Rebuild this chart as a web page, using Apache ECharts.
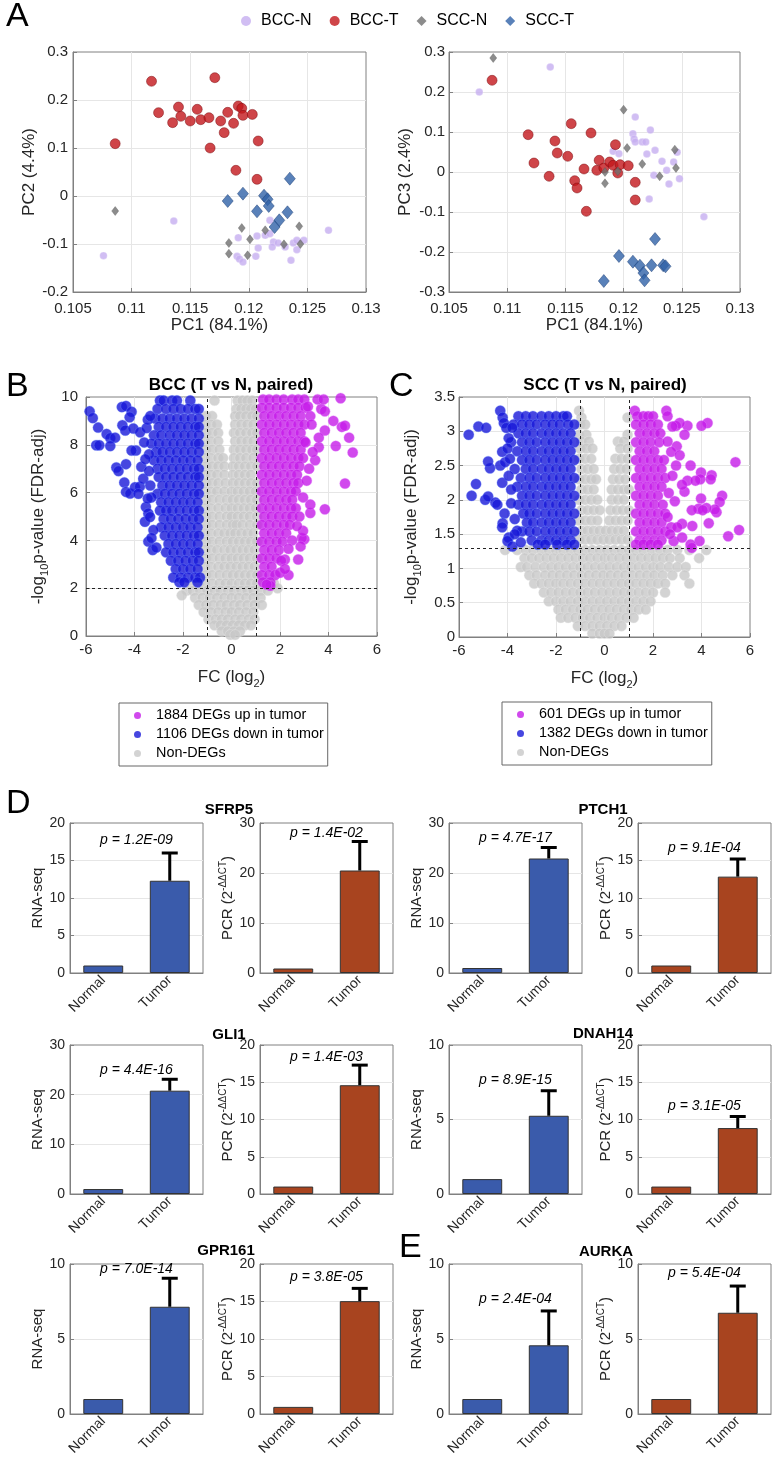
<!DOCTYPE html>
<html><head><meta charset="utf-8">
<script src="https://cdn.jsdelivr.net/npm/echarts@6/dist/echarts.min.js"></script>
<style>html,body{margin:0;padding:0;background:#fff}#c{width:774px;height:1459px}</style>
</head><body><div id="c"></div>
<script>
// ================= DATA =================
const pcaGroups = ['BCC-N', 'BCC-T', 'SCC-N', 'SCC-T'];
// PC1 vs PC2
const pc12_BCCN = [[0.1076,-0.1243],[0.1136,-0.0521],[0.1191,-0.0868],[0.1190,-0.1257],[0.1192,-0.1313],[0.1195,-0.1375],[0.1207,-0.0833],[0.1208,-0.1083],[0.1206,-0.1257],[0.1214,-0.0819],[0.1218,-0.0507],[0.1218,-0.0785],[0.1221,-0.0958],[0.1220,-0.1063],[0.1225,-0.0979],[0.1231,-0.1063],[0.1236,-0.134],[0.1238,-0.0979],[0.1241,-0.0924],[0.1247,-0.0924],[0.1241,-0.1118],[0.1268,-0.0715]];
const pc12_BCCT = [[0.1117,0.239],[0.1171,0.2465],[0.1086,0.109],[0.1123,0.1736],[0.1140,0.1854],[0.1142,0.166],[0.1135,0.1528],[0.1150,0.1563],[0.1156,0.1806],[0.1159,0.159],[0.1166,0.1632],[0.1167,0.100],[0.1176,0.1563],[0.1179,0.132],[0.1182,0.1743],[0.1187,0.1514],[0.1191,0.1875],[0.1194,0.1826],[0.1195,0.168],[0.1203,0.170],[0.1208,0.1146],[0.1189,0.0535],[0.1207,0.0347]];
const pc12_SCCN = [[0.1086,-0.0313],[0.1194,-0.0667],[0.1183,-0.0979],[0.1183,-0.1201],[0.1201,-0.0903],[0.1199,-0.1236],[0.1214,-0.0715],[0.1230,-0.1007],[0.1243,-0.0632],[0.1244,-0.1]];
const pc12_SCCT = [[0.1182,-0.0104],[0.1195,0.0049],[0.1213,0.0007],[0.1216,-0.0069],[0.1217,-0.0208],[0.1207,-0.0319],[0.1235,0.0361],[0.1233,-0.034],[0.1226,-0.0507],[0.1222,-0.0646]];
// PC1 vs PC3
const pc13_BCCN = [[0.1076,0.2],[0.1137,0.2625],[0.1210,0.1375],[0.1208,0.0958],[0.1209,0.0825],[0.1210,0.075],[0.1216,0.075],[0.1219,0.075],[0.1223,0.105],[0.1220,0.045],[0.1227,0.0542],[0.1233,0.0267],[0.1237,0.0042],[0.1243,0.025],[0.1246,0.0492],[0.1248,-0.0167],[0.1239,-0.03],[0.1226,-0.0083],[0.1222,-0.0675],[0.1191,0.0517],[0.1196,0.0458],[0.1269,-0.1117]];
const pc13_BCCT = [[0.1087,0.2292],[0.1118,0.0933],[0.1123,0.0225],[0.1136,-0.0108],[0.1141,0.0775],[0.1143,0.0475],[0.1152,0.0392],[0.1155,0.1208],[0.1158,-0.0217],[0.1160,-0.04],[0.1166,0.0075],[0.1168,-0.0983],[0.1172,0.0975],[0.1177,0.0042],[0.1179,0.0292],[0.1183,0.01],[0.1188,0.025],[0.1191,0.0167],[0.1193,0.0683],[0.1195,-0.0025],[0.1197,0.0183],[0.1204,0.0158],[0.1210,-0.0258],[0.1210,-0.07]];
const pc13_SCCN = [[0.1088,0.285],[0.1200,0.1558],[0.1203,0.06],[0.1184,0],[0.1184,-0.0283],[0.1195,0.0017],[0.1216,0.02],[0.1231,-0.0108],[0.1244,0.0558],[0.1245,0.01]];
const pc13_SCCT = [[0.1183,-0.2725],[0.1196,-0.21],[0.1208,-0.2242],[0.1214,-0.2342],[0.1217,-0.2525],[0.1218,-0.2708],[0.1224,-0.2333],[0.1227,-0.1675],[0.1234,-0.2333],[0.1236,-0.2358]];

// Volcano B (BCC): rows [y, [x...]]
const bccUpName = '1884 DEGs up in tumor', bccDownName = '1106 DEGs down in tumor';
const bccDownRows = [[9.85,[-2.95,-2.8,-2.45,-2.25,-1.7]],[9.5,[-3.05,-2.7,-2.4,-2.1,-1.8,-1.5,-1.35]],[9.1,[-3.15,-2.85,-2.55,-2.25,-1.95,-1.65,-1.35]],[8.75,[-3.0,-2.7,-2.4,-2.1,-1.8,-1.5,-1.35]],[8.4,[-3.2,-2.9,-2.55,-2.25,-1.95,-1.65,-1.35]],[8.05,[-3.3,-3.0,-2.7,-2.4,-2.1,-1.8,-1.5,-1.35]],[7.7,[-3.1,-2.85,-2.55,-2.25,-1.95,-1.65,-1.35]],[7.35,[-3.2,-2.9,-2.6,-2.3,-2.0,-1.7,-1.4]],[7.0,[-3.05,-2.75,-2.45,-2.15,-1.85,-1.55,-1.35]],[6.65,[-3.0,-2.7,-2.4,-2.1,-1.8,-1.5,-1.35]],[6.3,[-2.85,-2.55,-2.25,-1.95,-1.65,-1.35]],[5.95,[-3.05,-2.75,-2.45,-2.15,-1.85,-1.55,-1.35]],[5.6,[-2.9,-2.6,-2.3,-2.0,-1.7,-1.4]],[5.25,[-2.95,-2.7,-2.45,-2.15,-1.85,-1.55,-1.35]],[4.9,[-2.8,-2.5,-2.2,-1.9,-1.6,-1.35]],[4.55,[-2.9,-2.6,-2.3,-2.0,-1.7,-1.4]],[4.2,[-2.75,-2.45,-2.15,-1.85,-1.55,-1.35]],[3.85,[-2.6,-2.3,-2.0,-1.7,-1.4]],[3.5,[-2.7,-2.4,-2.1,-1.8,-1.5,-1.35]],[3.15,[-2.5,-2.2,-1.9,-1.6,-1.35]],[2.8,[-2.3,-2.0,-1.7,-1.4]],[2.45,[-2.4,-2.1,-1.8,-1.5,-1.3]],[2.25,[-2.15,-1.95,-1.4]]];
const bccDownOut = [[-5.85,9.4],[-5.72,9.12],[-5.5,8.72],[-5.58,7.98],[-5.45,7.98],[-5.15,8.45],[-5.0,8.28],[-4.8,8.3],[-5.0,7.95],[-4.75,7.05],[-4.66,6.9],[-4.52,9.58],[-4.35,9.62],[-4.5,8.82],[-4.38,8.6],[-4.12,9.38],[-4.2,9.15],[-4.42,6.42],[-4.35,6.03],[-4.18,5.96],[-3.98,6.22],[-3.78,6.25],[-3.84,5.95],[-4.05,8.68],[-3.94,7.76],[-3.77,8.52],[-4.12,7.76],[-4.35,7.19],[-3.64,6.58],[-3.72,7.08],[-3.53,5.4],[-3.43,5.13],[-3.57,4.78],[-3.36,4.98],[-3.43,3.95],[-3.22,4.43],[-3.5,8.7],[-3.45,9.05],[-3.35,9.2],[-3.6,8.1],[-3.4,7.6],[-3.55,7.4],[-3.4,6.9],[-3.35,6.3],[-3.3,5.8],[-3.45,5.75],[-3.25,3.6],[-3.3,4.1],[-3.1,3.7]];
const bccUpRows = [[9.9,[1.3,1.55,1.85,2.15,2.5,2.75,3.0]],[9.55,[1.25,1.55,1.85,2.15,2.45,2.75,3.05]],[9.2,[1.35,1.65,1.95,2.25,2.55,2.85]],[8.85,[1.25,1.55,1.85,2.15,2.45,2.75,3.0]],[8.5,[1.35,1.65,1.95,2.25,2.55,2.85]],[8.15,[1.25,1.55,1.85,2.15,2.45,2.75,3.0]],[7.8,[1.35,1.65,1.95,2.25,2.55,2.85]],[7.45,[1.25,1.55,1.85,2.15,2.45,2.75,2.95]],[7.1,[1.35,1.65,1.95,2.25,2.55,2.8]],[6.75,[1.25,1.55,1.85,2.15,2.45,2.7]],[6.4,[1.35,1.65,1.95,2.25,2.55,2.75]],[6.05,[1.25,1.55,1.85,2.15,2.45,2.65]],[5.7,[1.35,1.65,1.95,2.25,2.5]],[5.35,[1.25,1.55,1.85,2.15,2.45,2.65]],[5.0,[1.35,1.65,1.95,2.25,2.5]],[4.65,[1.25,1.55,1.85,2.15,2.4]],[4.3,[1.35,1.65,1.95,2.25]],[3.95,[1.25,1.55,1.85,2.1]],[3.6,[1.35,1.65,1.95]],[3.25,[1.25,1.55,1.85]],[2.9,[1.35,1.65]],[2.55,[1.25,1.55,1.8]],[2.25,[1.3,1.6]]];
const bccUpOut = [[4.5,9.95],[4.3,7.95],[4.55,8.75],[4.68,8.8],[4.85,8.3],[5.0,7.68],[4.68,6.38],[3.85,5.3],[3.25,5.15],[3.25,5.5],[3.6,7.9],[3.45,7.35],[3.85,8.6],[3.7,9.5],[3.85,9.4],[3.55,9.9],[3.8,9.9],[3.25,9.2],[3.3,8.85],[3.0,4.05],[2.75,3.2],[2.35,2.55],[2.2,3.2],[2.05,3.15],[2.0,2.65],[1.6,2.1],[1.45,2.15],[2.9,4.1],[2.95,4.4],[2.7,4.6],[2.5,4.0],[2.8,5.0],[2.95,5.8],[3.1,6.5],[3.2,7.0],[3.05,8.1],[3.15,9.6],[2.85,3.75],[2.35,3.65],[2.2,2.8],[3.35,7.7],[4.2,9.0],[3.6,8.3]];
const bccNonRows = [[9.85,[-0.7,0.25,0.45,0.65,0.85]],[9.5,[0.2,0.4,0.6,0.8,1.0]],[9.2,[-1.05,-0.8,0.15,0.35,0.6,0.85,1.05]],[8.85,[-1.1,-0.85,-0.6,0.15,0.4,0.65,0.9]],[8.5,[-1.05,-0.8,-0.55,0.1,0.35,0.6,0.85,1.05]],[8.15,[-1.1,-0.85,-0.55,0.15,0.4,0.65,0.9]],[7.8,[-1.05,-0.8,-0.5,0.1,0.35,0.6,0.85,1.05]],[7.45,[-1.1,-0.85,-0.55,-0.35,0.1,0.35,0.6,0.9]],[7.1,[-1.05,-0.8,-0.55,-0.3,0.05,0.3,0.55,0.8,1.05]],[6.75,[-1.1,-0.85,-0.6,-0.3,0.05,0.3,0.55,0.8]],[6.4,[-1.05,-0.8,-0.55,-0.25,0.05,0.3,0.55,0.8,1.05]],[6.05,[-1.1,-0.85,-0.6,-0.3,0.0,0.25,0.5,0.75,1.0]],[5.7,[-1.05,-0.8,-0.5,-0.2,0.05,0.3,0.55,0.8,1.05]],[5.35,[-1.1,-0.85,-0.55,-0.25,0.0,0.25,0.5,0.75,1.0]],[5.0,[-1.05,-0.8,-0.5,-0.2,0.0,0.25,0.5,0.75,1.05]],[4.65,[-1.05,-0.8,-0.5,-0.2,0.05,0.2,0.45,0.75,1.05]],[4.3,[-1.1,-0.85,-0.55,-0.3,-0.05,0.15,0.4,0.65,0.9]],[3.95,[-1.05,-0.8,-0.5,-0.2,0.05,0.3,0.55,0.8,1.05]],[3.6,[-1.1,-0.85,-0.6,-0.3,-0.05,0.2,0.45,0.7,0.95]],[3.25,[-1.05,-0.8,-0.5,-0.25,0.0,0.25,0.5,0.75,1.05]],[2.9,[-1.1,-0.85,-0.55,-0.3,-0.05,0.2,0.45,0.7,0.95]],[2.55,[-1.05,-0.8,-0.5,-0.2,0.05,0.3,0.55,0.8,1.05]],[2.2,[-1.7,-1.35,-1.1,-0.8,-0.5,-0.25,0.0,0.3,0.55,0.8,1.05,1.4,1.75]],[1.9,[-1.85,-1.6,-1.3,-1.0,-0.7,-0.45,-0.15,0.1,0.4,0.65,0.9,1.2,1.5]],[1.6,[-1.5,-1.2,-0.9,-0.6,-0.3,0.0,0.3,0.6,0.9,1.2]],[1.3,[-1.35,-1.05,-0.75,-0.45,-0.2,0.1,0.35,0.65,0.95,1.25]],[1.0,[-1.15,-0.85,-0.55,-0.25,0.0,0.3,0.6,0.9]],[0.7,[-0.95,-0.65,-0.4,-0.15,0.15,0.4,0.7,0.95]],[0.45,[-0.7,-0.45,-0.2,0.05,0.3,0.55,0.8]],[0.2,[-0.4,-0.15,0.1,0.35]],[0.05,[-0.05,0.15]]];
const bccNonOut = [[-2.05,1.7],[1.9,2.0]];
const bccPThresh = 2;

// Volcano C (SCC)
const sccUpName = '601 DEGs up in tumor', sccDownName = '1382 DEGs down in tumor';
const sccDownRows = [[3.22,[-3.55,-3.25,-2.95,-2.6,-2.3,-2.0,-1.7,-1.55]],[3.1,[-3.75,-3.4,-3.1,-2.8,-2.45,-2.15,-1.85,-1.5,-1.25]],[2.97,[-3.55,-3.25,-2.95,-2.6,-2.3,-2.0,-1.7,-1.4]],[2.84,[-3.85,-3.4,-3.1,-2.8,-2.45,-2.15,-1.85,-1.55,-1.25]],[2.71,[-3.6,-3.25,-2.95,-2.6,-2.3,-2.0,-1.7,-1.4]],[2.58,[-3.4,-3.1,-2.8,-2.45,-2.15,-1.85,-1.55,-1.25]],[2.45,[-3.7,-3.25,-2.95,-2.6,-2.3,-2.0,-1.7,-1.4]],[2.32,[-3.45,-3.1,-2.8,-2.45,-2.15,-1.85,-1.55,-1.25]],[2.19,[-3.6,-3.25,-2.95,-2.6,-2.3,-2.0,-1.7,-1.4]],[2.06,[-3.4,-3.1,-2.8,-2.45,-2.15,-1.85,-1.55,-1.25]],[1.93,[-3.55,-3.25,-2.95,-2.6,-2.3,-2.0,-1.7,-1.4]],[1.8,[-3.35,-3.1,-2.8,-2.45,-2.15,-1.85,-1.55,-1.25]],[1.67,[-3.2,-2.95,-2.6,-2.3,-2.0,-1.7,-1.4]],[1.54,[-3.4,-3.1,-2.8,-2.45,-2.15,-1.85,-1.55,-1.25]],[1.41,[-3.0,-2.6,-2.3,-2.0,-1.7,-1.4]],[1.35,[-2.75,-2.45,-1.95,-1.55,-1.25]]];
const sccDownOut = [[-5.6,2.95],[-5.2,3.07],[-4.88,3.05],[-5.3,2.23],[-5.48,2.06],[-4.92,2.0],[-4.8,2.05],[-4.72,2.46],[-4.8,2.56],[-4.5,1.96],[-4.42,1.93],[-4.22,2.25],[-4.12,1.8],[-4.2,1.66],[-4.22,1.6],[-3.95,1.45],[-4.0,1.4],[-3.8,1.32],[-4.3,3.3],[-4.2,3.2],[-4.15,3.12],[-3.95,2.9],[-4.22,2.7],[-4.3,2.5],[-4.1,2.55],[-4.05,3.05],[-3.9,2.6],[-3.95,2.35],[-3.85,2.15],[-3.7,1.72],[-3.85,1.95],[-3.6,1.55],[-3.45,1.38],[-3.7,1.5],[-3.8,3.05],[-4.0,2.75]];
const sccUpRows = [[3.3,[1.25]],[3.22,[1.35,1.6,1.8,2.0]],[3.1,[1.3,1.6,1.9,2.2]],[2.97,[1.45,1.75,2.05,2.3]],[2.84,[1.3,1.6,1.9,2.25]],[2.71,[1.45,1.75,2.05]],[2.58,[1.3,1.6,1.9,2.2,2.45]],[2.45,[1.45,1.75,2.05,2.35]],[2.32,[1.3,1.6,1.9,2.2,2.5]],[2.19,[1.45,1.75,2.05,2.35]],[2.06,[1.3,1.6,1.9,2.2]],[1.93,[1.45,1.75,2.05,2.4]],[1.8,[1.3,1.6,1.9,2.2,2.5]],[1.67,[1.45,1.75,2.05,2.35]],[1.54,[1.3,1.6,1.9,2.2,2.5]],[1.41,[1.45,1.75,2.05,2.35]],[1.35,[1.3,1.6,1.9,2.2]]];
const sccUpOut = [[5.55,1.56],[5.4,2.55],[5.1,1.47],[4.85,2.06],[4.75,1.97],[4.62,1.82],[4.55,1.86],[4.42,2.36],[4.38,2.3],[4.25,3.12],[4.0,3.08],[3.98,2.4],[3.95,2.3],[3.98,2.02],[3.88,1.87],[3.92,1.4],[4.2,1.88],[4.3,1.66],[4.05,1.85],[3.6,1.85],[3.62,1.62],[3.55,2.5],[3.42,2.28],[3.42,3.08],[3.3,2.12],[3.2,2.22],[3.2,1.65],[3.1,3.12],[2.95,3.08],[2.8,3.07],[2.98,2.78],[3.3,2.95],[3.75,2.28],[3.55,1.35],[3.6,1.3],[2.55,3.3],[2.6,3.22],[2.95,2.5],[2.75,2.7],[2.6,2.85],[2.8,2.35],[2.65,2.1],[2.9,1.98],[2.75,1.6],[3.0,1.6],[2.85,1.4],[2.6,1.75],[3.1,2.65],[2.7,1.5],[3.2,1.45]];
const sccNonRows = [[3.3,[-1.05]],[3.2,[-0.95,0.95]],[3.1,[-1.0,-0.8]],[2.95,[-1.05,-0.75,0.95]],[2.85,[-0.95,-0.65,0.55,0.8]],[2.75,[-1.0,-0.75,-0.5,0.65,0.95]],[2.6,[-1.05,-0.8,-0.55,0.45,0.7,0.95]],[2.45,[-0.95,-0.7,-0.45,0.4,0.65,0.9]],[2.3,[-1.05,-0.8,-0.55,-0.35,0.35,0.6,0.85]],[2.15,[-0.95,-0.7,-0.45,0.3,0.55,0.8,1.0]],[2.0,[-1.05,-0.8,-0.55,-0.3,0.3,0.55,0.8]],[1.85,[-0.95,-0.7,-0.45,-0.2,0.25,0.5,0.75,1.0]],[1.7,[-1.05,-0.8,-0.55,-0.3,0.2,0.45,0.7,0.95]],[1.55,[-0.95,-0.7,-0.45,-0.2,0.05,0.3,0.55,0.8]],[1.42,[-1.05,-0.8,-0.55,-0.3,-0.05,0.2,0.45,0.7,0.95]],[1.27,[-4.1,-3.6,-3.25,-2.95,-2.6,-2.3,-2.0,-1.7,-1.4,-1.1,-0.8,-0.5,-0.2,0.1,0.4,0.7,1.0,1.3,1.6,1.95,2.3,2.6,3.0,3.5,4.2]],[1.15,[-3.3,-3.0,-2.7,-2.4,-2.1,-1.8,-1.5,-1.2,-0.9,-0.6,-0.3,0.0,0.3,0.6,0.9,1.2,1.5,1.8,2.1,2.4,2.7,3.1,3.9]],[1.02,[-3.45,-3.2,-2.85,-2.5,-2.2,-1.9,-1.6,-1.3,-1.0,-0.7,-0.4,-0.1,0.2,0.5,0.8,1.1,1.4,1.7,2.0,2.3,2.65,3.0,3.35]],[0.9,[-3.1,-2.8,-2.45,-2.15,-1.85,-1.55,-1.25,-0.95,-0.65,-0.35,-0.05,0.25,0.55,0.85,1.15,1.45,1.75,2.05,2.4,2.8,3.3]],[0.78,[-2.9,-2.6,-2.3,-2.0,-1.7,-1.4,-1.1,-0.8,-0.5,-0.2,0.1,0.4,0.7,1.0,1.3,1.6,1.9,2.2,2.5,3.5]],[0.65,[-2.5,-2.2,-1.9,-1.6,-1.3,-1.0,-0.7,-0.4,-0.1,0.2,0.5,0.8,1.1,1.4,1.7,2.0,2.5]],[0.52,[-2.3,-2.0,-1.7,-1.4,-1.1,-0.8,-0.5,-0.2,0.1,0.4,0.7,1.0,1.3,1.6,1.9]],[0.4,[-1.9,-1.6,-1.3,-1.0,-0.7,-0.4,-0.1,0.2,0.5,0.8,1.1,1.4,1.7]],[0.28,[-1.8,-1.5,-1.2,-0.9,-0.6,-0.3,0.0,0.3,0.6,0.9,1.2]],[0.16,[-1.1,-0.8,-0.5,-0.2,0.1,0.4,0.7]],[0.05,[-0.5,-0.2,0.0,0.2]]];
const sccPThresh = 1.3;
const fcThresh = 1;

// Bar panels D / E
const genes = ['SFRP5', 'PTCH1', 'GLI1', 'DNAH14', 'GPR161', 'AURKA'];
const barCats = ['Normal', 'Tumor'];
const rnaNormal = [1, 1, 1, 1, 1, 1];
const rnaTumor = [12.3, 22.9, 20.8, 5.25, 7.15, 4.58];
const rnaErrTop = [16.0, 25.1, 23.1, 6.93, 9.05, 6.87];
const pcrNormal = [0.9, 1, 1, 1, 0.95, 1];
const pcrTumor = [20.5, 12.85, 14.6, 8.85, 15.05, 6.75];
const pcrErrTop = [26.3, 15.2, 17.3, 10.4, 16.75, 8.53];
const rnaP = ['1.2E-09', '4.7E-17', '4.4E-16', '8.9E-15', '7.0E-14', '2.4E-04'];
const pcrP = ['1.4E-02', '9.1E-04', '1.4E-03', '3.1E-05', '3.8E-05', '5.4E-04'];
const rnaMax = [20, 30, 30, 10, 10, 10], rnaStep = [5, 10, 10, 5, 5, 5];
const pcrMax = [30, 20, 20, 20, 20, 10], pcrStep = [10, 5, 5, 5, 5, 5];

// ================= LAYOUT / STYLE =================
const FF = '"Liberation Sans", Arial, Helvetica, sans-serif';
const BOX = '#808080', TXT = '#262626', GRIDC = '#e6e6e6';
const rowsToPts = rows => rows.flatMap(([y, xs]) => xs.map(x => [x, y]));
const barTops = [823, 1045, 1264], barH = [150, 149, 150];
const rnaLeft = [70, 449], pcrLeft = [260, 638], barW = 133;
const rnaPy = [840, 838, 1070, 1080, 1269, 1299];
const pcrPy = [833, 848, 1057, 1106, 1277, 1273];
const geneTitlePos = [[229, 810], [603, 810], [229, 1035], [603, 1034], [226, 1251], [606, 1252]];
const VOL_SIZE = 10.5;

const grids = [], xAxes = [], yAxes = [], series = [], graphics = [];
function addGrid(r) {
  grids.push({left: r[0], top: r[1], width: r[2], height: r[3], show: true, borderColor: BOX, borderWidth: 1, outerBoundsMode: 'none', containLabel: false});
  return grids.length - 1;
}
function valueAxis(gi, min, max, interval, o) {
  return {
    type: 'value', gridIndex: gi, min, max, interval,
    axisLine: {show: true, onZero: false, lineStyle: {color: BOX}},
    axisTick: {show: true, inside: true, length: 4, lineStyle: {color: BOX}},
    splitLine: {show: o.split !== false, showMinLine: false, showMaxLine: false, lineStyle: {color: GRIDC}},
    axisLabel: {color: TXT, fontSize: o.fs || 15, fontFamily: FF, margin: o.margin, formatter: o.fmt},
    name: o.name, nameLocation: 'middle', nameGap: o.nameGap,
    nameTextStyle: Object.assign({color: TXT, fontSize: 17, fontFamily: FF}, o.nts || {})
  };
}
const sub = {b: {fontSize: 17, lineHeight: 24, color: TXT, fontFamily: FF}, s: {fontSize: 11, lineHeight: 12, verticalAlign: 'bottom', color: TXT, fontFamily: FF}};
const sup = {b: {fontSize: 15, lineHeight: 20, color: TXT, fontFamily: FF}, s: {fontSize: 10, lineHeight: 10, verticalAlign: 'top', color: TXT, fontFamily: FF}};

// ---- Panel A ----
const pcaSets = [
  {rect: [73, 52, 293, 240], yMin: -0.2, yMax: 0.3, yName: 'PC2 (4.4%)', yGap: 32, yMargin: 5, data: [pc12_BCCN, pc12_BCCT, pc12_SCCN, pc12_SCCT]},
  {rect: [449, 52, 291, 240], yMin: -0.3, yMax: 0.3, yName: 'PC3 (2.4%)', yGap: 35, yMargin: 4, data: [pc13_BCCN, pc13_BCCT, pc13_SCCN, pc13_SCCT]}
];
const pcaStyle = [
  {symbol: 'circle', size: 7.5, item: {color: '#c6aef0', borderColor: 'rgba(255,255,255,0.6)', borderWidth: 0.5}},
  {symbol: 'circle', size: 10, item: {color: '#c3161c', borderColor: '#7a0a0e', borderWidth: 0.6}},
  {symbol: 'diamond', size: [7, 9], item: {color: '#6f6f6f', borderColor: '#555', borderWidth: 0.4}},
  {symbol: 'diamond', size: [11, 13], item: {color: '#2f62a8', borderColor: '#1d3f75', borderWidth: 0.6}}
];
pcaSets.forEach(ps => {
  const gi = addGrid(ps.rect);
  xAxes.push(valueAxis(gi, 0.105, 0.13, 0.005, {margin: 9, fmt: v => (+v.toFixed(3)).toString(), name: 'PC1 (84.1%)', nameGap: 22}));
  yAxes.push(valueAxis(gi, ps.yMin, ps.yMax, 0.1, {margin: ps.yMargin, fmt: v => (Math.round(v * 10) / 10).toString(), name: ps.yName, nameGap: ps.yGap}));
  const ai = xAxes.length - 1;
  ps.data.forEach((d, k) => {
    series.push({type: 'scatter', name: pcaGroups[k], xAxisIndex: ai, yAxisIndex: ai, data: d, symbol: pcaStyle[k].symbol, symbolSize: pcaStyle[k].size, itemStyle: pcaStyle[k].item, z: 2 + k});
  });
});

// ---- Panels B, C ----
const volSets = [
  {rect: [86, 397, 291, 239], yMax: 10, yStep: 2, yMargin: 8, yGap: 36, thr: bccPThresh, names: [bccUpName, bccDownName],
   up: rowsToPts(bccUpRows).concat(bccUpOut), down: rowsToPts(bccDownRows).concat(bccDownOut), non: rowsToPts(bccNonRows).concat(bccNonOut), title: 'BCC (T vs N, paired)', tx: 231},
  {rect: [459, 397, 291, 240], yMax: 3.5, yStep: 0.5, yMargin: 4, yGap: 36, thr: sccPThresh, names: [sccUpName, sccDownName],
   up: rowsToPts(sccUpRows).concat(sccUpOut), down: rowsToPts(sccDownRows).concat(sccDownOut), non: rowsToPts(sccNonRows), title: 'SCC (T vs N, paired)', tx: 605}
];
volSets.forEach(vs => {
  const gi = addGrid(vs.rect);
  xAxes.push(valueAxis(gi, -6, 6, 2, {margin: 6, name: '{b|FC (log}{s|2}{b|)}', nameGap: 29, nts: {rich: sub}}));
  yAxes.push(valueAxis(gi, 0, vs.yMax, vs.yStep, {margin: vs.yMargin, name: '{b|-log}{s|10}{b|p-value (FDR-adj)}', nameGap: vs.yGap, nts: {rich: sub}}));
  const ai = xAxes.length - 1;
  series.push({type: 'scatter', name: 'Non-DEGs', xAxisIndex: ai, yAxisIndex: ai, data: vs.non, symbolSize: VOL_SIZE, itemStyle: {color: '#c8c8c8', borderColor: 'rgba(235,235,235,0.9)', borderWidth: 0.5}, z: 2});
  series.push({type: 'scatter', name: vs.names[1], xAxisIndex: ai, yAxisIndex: ai, data: vs.down, symbolSize: VOL_SIZE, itemStyle: {color: '#1818d8', borderColor: 'rgba(110,140,255,0.85)', borderWidth: 0.5}, z: 3});
  series.push({type: 'scatter', name: vs.names[0], xAxisIndex: ai, yAxisIndex: ai, data: vs.up, symbolSize: VOL_SIZE, itemStyle: {color: '#c51be8', borderColor: 'rgba(230,140,255,0.85)', borderWidth: 0.5}, z: 4,
    markLine: {silent: true, symbol: 'none', label: {show: false}, animation: false, lineStyle: {color: '#222', type: [3, 3], width: 1},
      data: [{xAxis: -fcThresh}, {xAxis: fcThresh}, {yAxis: vs.thr}]}});
  graphics.push({type: 'text', x: vs.tx, y: 385, style: {text: vs.title, font: 'bold 17px ' + FF, fill: '#000', align: 'center', verticalAlign: 'middle', textAlign: 'center', textVerticalAlign: 'middle'}});
});

// ---- Panels D, E ----
function errRender(params, api) {
  const base = api.coord([api.value(0), api.value(1)]);
  const top = api.coord([api.value(0), api.value(2)]);
  const st = {stroke: '#000', lineWidth: 3};
  return {type: 'group', children: [
    {type: 'line', shape: {x1: base[0], y1: base[1], x2: top[0], y2: top[1]}, style: st},
    {type: 'line', shape: {x1: top[0] - 8, y1: top[1], x2: top[0] + 8, y2: top[1]}, style: st}
  ]};
}
genes.forEach((g, i) => {
  const row = Math.floor(i / 2), col = i % 2;
  const panels = [
    {left: rnaLeft[col], max: rnaMax[i], step: rnaStep[i], vals: [rnaNormal[i], rnaTumor[i]], err: rnaErrTop[i], color: '#3a5bab', name: 'RNA-seq', gap: 24, nts: {fontSize: 15}, p: rnaP[i], py: rnaPy[i]},
    {left: pcrLeft[col], max: pcrMax[i], step: pcrStep[i], vals: [pcrNormal[i], pcrTumor[i]], err: pcrErrTop[i], color: '#a8441f', name: '{b|PCR (2}{s|-ΔΔCT}{b|)}', gap: 22, nts: {rich: sup}, p: pcrP[i], py: pcrPy[i]}
  ];
  panels.forEach(p => {
    const gi = addGrid([p.left, barTops[row], barW, barH[row]]);
    xAxes.push({type: 'category', gridIndex: gi, data: barCats,
      axisLine: {show: true, lineStyle: {color: BOX}},
      axisTick: {show: true, inside: true, alignWithLabel: true, length: 3, lineStyle: {color: BOX}},
      axisLabel: {rotate: 45, fontSize: 14, color: TXT, fontFamily: FF, margin: 5}, splitLine: {show: false}});
    yAxes.push(valueAxis(gi, 0, p.max, p.step, {fs: 14, margin: 5, name: p.name, nameGap: p.gap, nts: p.nts}));
    const ai = xAxes.length - 1;
    series.push({type: 'bar', xAxisIndex: ai, yAxisIndex: ai, data: p.vals, barWidth: '60%', itemStyle: {color: p.color, borderColor: '#333', borderWidth: 1}, z: 2});
    series.push({type: 'custom', xAxisIndex: ai, yAxisIndex: ai, data: [[1, p.vals[1], p.err]], renderItem: errRender, encode: {x: 0, y: [1, 2]}, z: 3});
    graphics.push({type: 'text', x: p.left + barW / 2, y: p.py, style: {text: 'p = ' + p.p, font: 'italic 14px ' + FF, fill: '#000', align: 'center', verticalAlign: 'middle', textAlign: 'center', textVerticalAlign: 'middle'}});
  });
  graphics.push({type: 'text', x: geneTitlePos[i][0], y: geneTitlePos[i][1], style: {text: g, font: 'bold 15px ' + FF, fill: '#000', align: 'center', verticalAlign: 'middle', textAlign: 'center', textVerticalAlign: 'middle'}});
});

// panel letters
[['A', 6, 17], ['B', 6, 387], ['C', 389, 387], ['D', 6, 804], ['E', 399, 1248]].forEach(([t, x, y]) => {
  graphics.push({type: 'text', x, y, style: {text: t, font: '34px ' + FF, fill: '#000', align: 'left', verticalAlign: 'middle', textAlign: 'left', textVerticalAlign: 'middle'}});
});

const legendBox = {orient: 'vertical', padding: [3, 4, 3, 15], itemWidth: 7, itemHeight: 7, itemGap: 0, borderColor: '#666', borderWidth: 1, selectedMode: false,
  itemStyle: {borderWidth: 0},
  textStyle: {fontSize: 14.4, lineHeight: 19, color: '#000', fontFamily: FF, padding: [0, 0, 0, 10]}};
const option = {
  animation: false,
  backgroundColor: '#fff',
  grid: grids, xAxis: xAxes, yAxis: yAxes, series,
  legend: [
    {data: pcaGroups, left: 236, top: 8, itemWidth: 10, itemHeight: 10, itemGap: 18, selectedMode: false,
     itemStyle: {borderWidth: 0}, textStyle: {fontSize: 16, color: '#000', fontFamily: FF, padding: [0, 0, 0, 5]}},
    Object.assign({data: [bccUpName, bccDownName, 'Non-DEGs'], left: 119, top: 703}, legendBox),
    Object.assign({data: [sccUpName, sccDownName, 'Non-DEGs'], left: 502, top: 702}, legendBox)
  ],
  graphic: graphics
};
const chart = echarts.init(document.getElementById('c'), null, {renderer: 'canvas'});
chart.setOption(option);
</script></body></html>
